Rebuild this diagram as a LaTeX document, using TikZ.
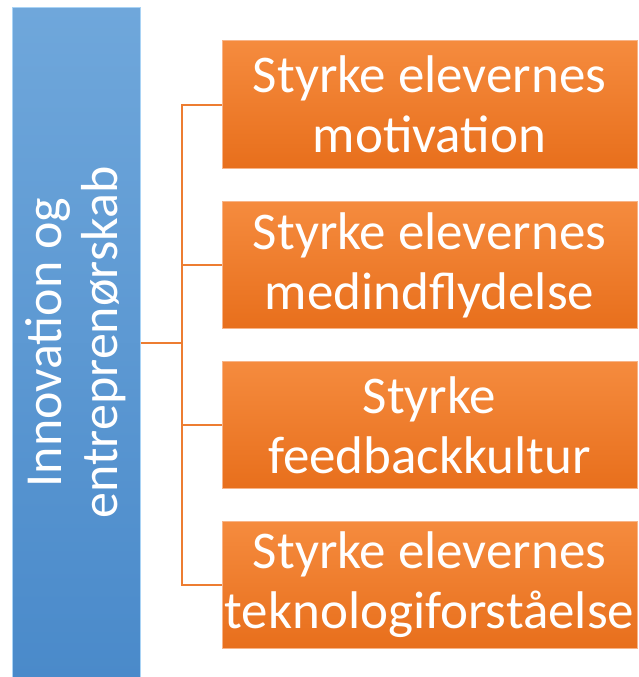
\documentclass[tikz,border=0pt]{standalone}
\usepackage{fontspec}
\setmainfont{Carlito}
\definecolor{bluetop}{HTML}{6FA7DB}
\definecolor{bluebot}{HTML}{4A8ACA}
\definecolor{blueedge}{HTML}{A9D3F5}
\definecolor{orangetop}{HTML}{F58B3E}
\definecolor{orangebot}{HTML}{E86F1C}
\definecolor{orangeedge}{HTML}{F8B488}
\definecolor{linkorange}{HTML}{ED7D31}
\begin{document}
\begin{tikzpicture}[x=1pt,y=-1pt,
    themebox/.style={rectangle, rotate=90, top color=bluetop, bottom color=bluebot,
      draw=blueedge, line width=1pt, minimum width=669pt, minimum height=128pt,
      inner sep=0pt, text=white, align=center, font=\fontsize{52}{56}\selectfont},
    goalbox/.style={rectangle, top color=orangetop, bottom color=orangebot,
      draw=orangeedge, line width=1pt, minimum width=415pt, minimum height=127pt,
      inner sep=0pt, text=white, align=center, font=\fontsize{53}{60}\selectfont},
    link/.style={draw=linkorange, line width=2pt}]
  \useasboundingbox (0,0) rectangle (638,677);
  \node[themebox] (innov) at (76,342.5) {Innovation og\\entreprenørskab};
  \node[goalbox] (g1) at (429.5,104.5) {Styrke elevernes\\motivation};
  \node[goalbox] (g2) at (429.5,265) {Styrke elevernes\\medindflydelse};
  \node[goalbox] (g3) at (429.5,425) {Styrke\\feedbackkultur};
  \node[goalbox] (g4) at (429.5,584.5) {Styrke elevernes\\teknologiforståelse};
  \coordinate (fork) at (182,342.5);
  \begin{scope}[link]
    \draw (innov.south) -- (fork);
    \draw (fork) |- (g1.west);
    \draw (fork) |- (g2.west);
    \draw (fork) |- (g3.west);
    \draw (fork) |- (g4.west);
  \end{scope}
\end{tikzpicture}
\end{document}
